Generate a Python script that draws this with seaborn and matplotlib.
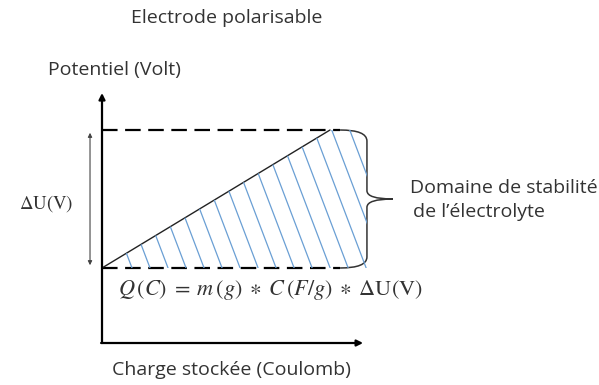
import numpy as np
import matplotlib
matplotlib.use("Agg")
import matplotlib.pyplot as plt
from matplotlib.patches import Polygon, PathPatch
from matplotlib.path import Path
import seaborn as sns

# Diagram values (charge in ramp units, potential in units of dU)
charge_ramp = [0.0, 1.0]
potential_ramp = [0.0, 1.0]
u_low, u_high = 0.0, 1.0

title = "Electrode polarisable"
y_label = "Potentiel (Volt)"
x_label = "Charge stockée (Coulomb)"
delta_label = r"$\Delta\mathrm{U(V)}$"
formula = (r"$Q\,(C)\;=\;m\,(g)\;\ast\;C\,(F/g)\;\ast\;\Delta\mathrm{U(V)}$")
domain_label = ["Domaine de stabilité", "de l\u2019électrolyte"]

sns.set_theme(style="white")
plt.rcParams["font.family"] = ["Open Sans", "DejaVu Sans"]
plt.rcParams["mathtext.fontset"] = "stix"

TXT = "#333333"
HATCH = "#6a9fd4"
FS = 14

fig = plt.figure(figsize=(5.99, 3.85), dpi=100)
ax = fig.add_axes([0, 0, 1, 1])
ax.set_xlim(-0.4474, 2.1798)
ax.set_ylim(-0.8478, 1.9420)
ax.set_axis_off()

x_axis_u = -0.5435
q_end_axis = 1.145
u_end_axis = 1.268
q_right = 1.162
q_tip = 1.276
q_dash = 1.044

# axes of the schematic
ax.annotate("", xy=(0, u_end_axis), xytext=(0, x_axis_u),
            arrowprops=dict(arrowstyle="-|>", lw=1.6, color="black",
                            mutation_scale=9, shrinkA=0, shrinkB=0))
ax.annotate("", xy=(q_end_axis, x_axis_u), xytext=(-0.004, x_axis_u),
            arrowprops=dict(arrowstyle="-|>", lw=1.6, color="black",
                            mutation_scale=9, shrinkA=0, shrinkB=0))

# dashed bounds
for u in (u_low, u_high):
    ax.plot([0, q_dash], [u, u], color="black", lw=1.6, dashes=(7, 3.4))

# ramp
sns.lineplot(x=charge_ramp, y=potential_ramp, ax=ax, color="#222222", lw=1.0)

# hatched region
region = Polygon([(charge_ramp[0], potential_ramp[0]), (charge_ramp[1], potential_ramp[1]),
                  (q_right, u_high), (q_right, u_low)], closed=True,
                 facecolor="none", edgecolor="none")
ax.add_patch(region)
for qb in np.arange(0.1316, q_right + 0.25, 0.079):
    ln, = ax.plot([qb, qb - 0.23 * 1.1], [u_low, u_high * 1.1], color=HATCH, lw=0.9)
    ln.set_clip_path(region)

# brace
c = 0.118
verts = [(q_right - c, u_high), (q_right, u_high), (q_right, u_high - 0.08),
         (q_right, 0.56),
         (q_right, 0.5), (q_tip, 0.5),
         (q_right, 0.5), (q_right, 0.44),
         (q_right, u_low + 0.08),
         (q_right, u_low), (q_right - c, u_low)]
codes = [Path.MOVETO, Path.CURVE3, Path.CURVE3, Path.LINETO,
         Path.CURVE3, Path.CURVE3, Path.CURVE3, Path.CURVE3,
         Path.LINETO, Path.CURVE3, Path.CURVE3]
ax.add_patch(PathPatch(Path(verts, codes), facecolor="none", edgecolor="#333333", lw=1.1))

# delta U double arrow
ax.annotate("", xy=(-0.0526, u_high), xytext=(-0.0526, u_low),
            arrowprops=dict(arrowstyle="<|-|>", lw=0.8, color="#444444",
                            mutation_scale=6, shrinkA=2, shrinkB=2))

# texts
ax.text(0.546, 1.812, title, ha="center", va="center", fontsize=FS, color=TXT)
ax.text(0.053, 1.435, y_label, ha="center", va="center", fontsize=FS, color=TXT)
ax.text(0.568, -0.739, x_label, ha="center", va="center", fontsize=FS, color=TXT)
ax.text(-0.127, 0.47, delta_label, ha="right", va="center", fontsize=13.5, color=TXT)
ax.text(0.737, -0.159, formula, ha="center", va="center", fontsize=16, color=TXT)
ax.text(1.351, 0.58, domain_label[0], ha="left", va="center", fontsize=FS, color=TXT)
ax.text(1.364, 0.406, domain_label[1], ha="left", va="center", fontsize=FS, color=TXT)

fig.savefig("out.png", dpi=100, facecolor="white")
